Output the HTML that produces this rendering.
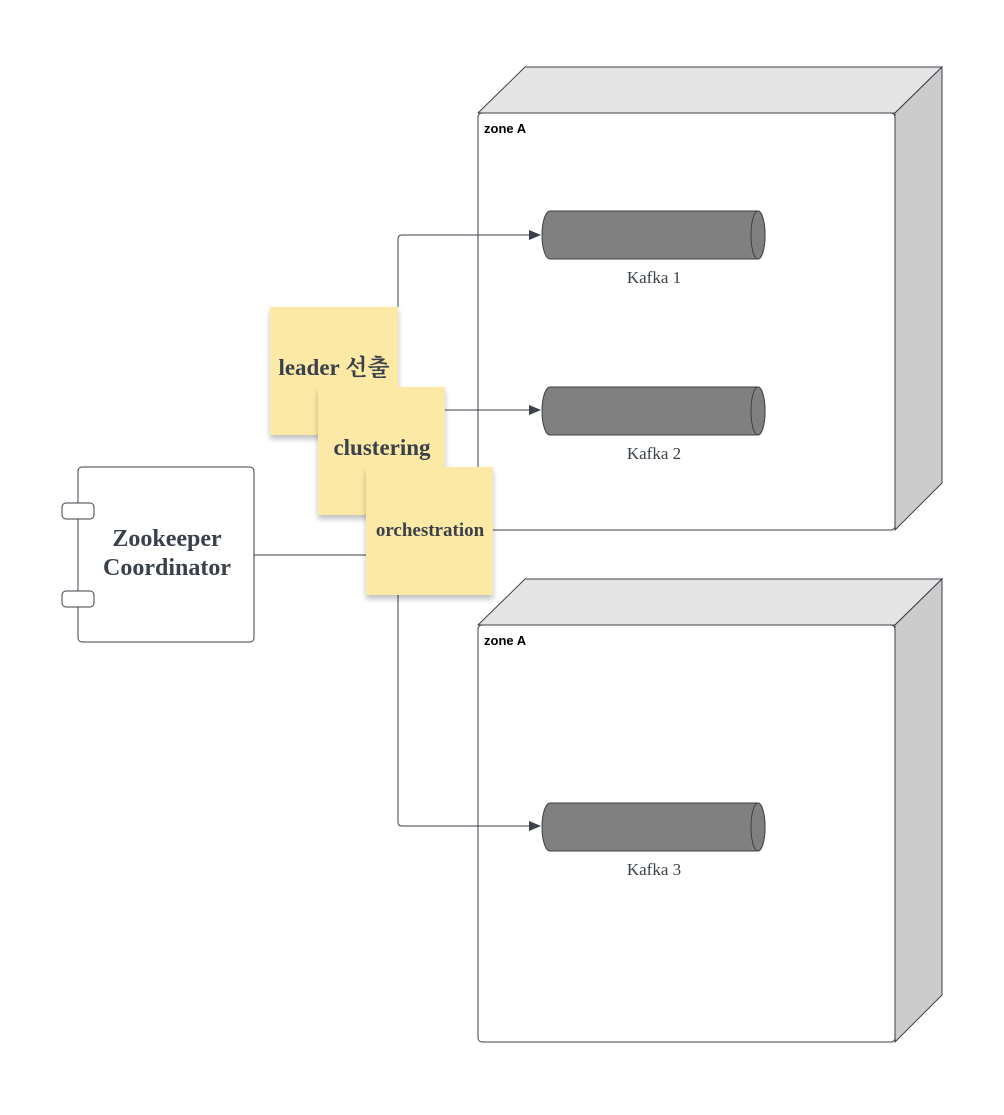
<!DOCTYPE html>
<html><head><meta charset="utf-8"><style>
body{margin:0;background:#fff;width:1004px;height:1110px;overflow:hidden}
</style></head><body>
<svg width="1004" height="1110" xmlns="http://www.w3.org/2000/svg" font-family="Liberation Serif, Noto Serif CJK SC, serif">
<defs>
<marker id="a" markerWidth="12" markerHeight="10" refX="11" refY="5" orient="auto" markerUnits="userSpaceOnUse"><path d="M0,0 L12,5 L0,10z" fill="#3a414a"/></marker>
<filter id="s" x="-20%" y="-20%" width="140%" height="140%"><feDropShadow dx="0" dy="4" stdDeviation="3" flood-color="#000" flood-opacity="0.25"/></filter>
</defs>
<g stroke="#3a414a" stroke-width="1">
<path d="M478,113 L525,67 L942,67 L895,113 Z" fill="#e4e4e4" stroke-linejoin="round"/>
<path d="M895,113 L942,67 L942,483 L895,530 Z" fill="#cccccc"/>
<rect x="478" y="113" width="417" height="417" rx="4" fill="#fff"/>
<path d="M478,625 L525,579 L942,579 L895,625 Z" fill="#e4e4e4"/>
<path d="M895,625 L942,579 L942,995 L895,1042 Z" fill="#cccccc"/>
<rect x="478" y="625" width="417" height="417" rx="4" fill="#fff"/>
</g>
<g font-family="Liberation Sans, sans-serif" font-weight="bold" font-size="13" fill="#000">
<text x="484" y="133">zone A</text><text x="484" y="645">zone A</text>
</g>
<g stroke="#3a414a" fill="#808080">
<path d="M550,211 L758,211 A7,24 0 0 1 758,259 L550,259 A8,24 0 0 1 550,211Z"/><ellipse cx="758" cy="235" rx="7" ry="24"/>
<path d="M550,387 L758,387 A7,24 0 0 1 758,435 L550,435 A8,24 0 0 1 550,387Z"/><ellipse cx="758" cy="411" rx="7" ry="24"/>
<path d="M550,803 L758,803 A7,24 0 0 1 758,851 L550,851 A8,24 0 0 1 550,803Z"/><ellipse cx="758" cy="827" rx="7" ry="24"/>
</g>
<g font-size="17" fill="#3a414a" text-anchor="middle">
<text x="654" y="283">Kafka 1</text><text x="654" y="459">Kafka 2</text><text x="654" y="875">Kafka 3</text>
</g>
<g stroke="#3a414a" fill="none" stroke-width="1">
<path d="M254,555 L366,555"/>
<path d="M398,307 L398,239 Q398,235 402,235 L540,235" marker-end="url(#a)"/>
<path d="M445,410 L540,410" marker-end="url(#a)"/>
<path d="M398,595 L398,822 Q398,826 402,826 L540,826" marker-end="url(#a)"/>
</g>
<g stroke="#3a414a" fill="#fff">
<rect x="78" y="467" width="176" height="175" rx="4"/>
<rect x="62" y="503" width="32" height="16" rx="4"/>
<rect x="62" y="591" width="32" height="16" rx="4"/>
</g>
<g font-size="24" font-weight="bold" fill="#3a414a" text-anchor="middle">
<text x="167" y="546">Zookeeper</text><text x="167" y="575">Coordinator</text>
</g>
<g filter="url(#s)" fill="#fde9a6"><rect x="270" y="307" width="128" height="128"/></g>
<text x="334" y="375" font-size="23" font-weight="bold" fill="#3a414a" text-anchor="middle">leader 선출</text>
<g filter="url(#s)" fill="#fde9a6"><rect x="318" y="387" width="127" height="128"/></g>
<text x="382" y="455" font-size="23" font-weight="bold" fill="#3a414a" text-anchor="middle">clustering</text>
<g filter="url(#s)" fill="#fde9a6"><rect x="366" y="467" width="127" height="128"/></g>
<text x="430" y="536" font-size="19" font-weight="bold" fill="#3a414a" text-anchor="middle">orchestration</text>
</svg>
</body></html>
